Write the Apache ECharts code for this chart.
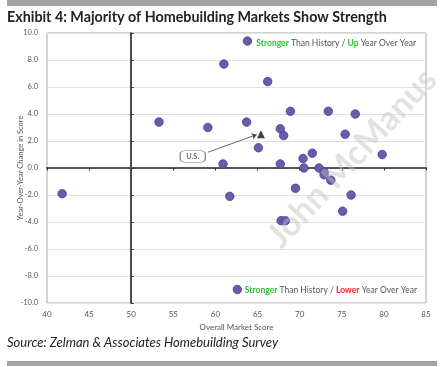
<!DOCTYPE html>
<html><head><meta charset="utf-8">
<script src="https://cdn.jsdelivr.net/npm/echarts@6/dist/echarts.min.js"></script>
<style>html,body{margin:0;padding:0;background:#fff}#c{width:442px;height:367px}</style>
</head><body><div id="c"></div>
<script>
// Overall Market Score (x) and Year-over-Year change (y)
const marketScore = [41.8, 53.3, 59.1, 60.9, 61.0, 61.7, 62.6, 63.7, 63.8, 65.1, 66.2, 67.7, 67.7, 67.8, 68.1, 68.3, 68.9, 69.5, 70.4, 70.5, 71.5, 72.3, 72.9, 72.9, 73.4, 73.7, 75.1, 75.4, 76.1, 76.6, 79.8];
const yoyChange   = [-1.9, 3.4, 3.0, 0.3, 7.7, -2.1, -9.0, 3.4, 9.4, 1.5, 6.4, 2.9, 0.3, -3.9, 2.4, -3.9, 4.2, -1.5, 0.7, 0.0, 1.1, 0.0, -0.3, -0.5, 4.2, -0.9, -3.2, 2.5, -2.0, 4.0, 1.0];
const usPoint = [65.4, 2.5];
const usLabel = 'U.S.';
const usLabelAt = [57.3, 0.85];
const usArrowFrom = [59.1, 1.17];
const usArrowTo = [64.9, 2.47];
const xTicks = [40, 45, 50, 55, 60, 65, 70, 75, 80, 85];
const yTicks = [-10, -8, -6, -4, -2, 0, 2, 4, 6, 8, 10];
const crossX = 50, crossY = 0;

const FONT = 'Lato, "Open Sans", sans-serif';
const chart = echarts.init(document.getElementById('c'), null, {renderer: 'canvas'});
const G = {left: 47, top: 33, right: 16, bottom: 64};
const gridW = 442 - G.left - G.right, gridH = 367 - G.top - G.bottom;
const xMin = xTicks[0], xMax = xTicks[xTicks.length - 1];
const yMin = yTicks[0], yMax = yTicks[yTicks.length - 1];
const offY = -gridH * (crossY - yMin) / (yMax - yMin);
const offX = -gridW * (crossX - xMin) / (xMax - xMin);
const T = 8.5;

chart.setOption({
  animation: false,
  textStyle: {fontFamily: FONT},
  grid: {left: G.left, top: G.top, right: G.right, bottom: G.bottom, show: true, borderColor: '#a8a8a8', borderWidth: 1},
  xAxis: [{
    type: 'value', min: xMin, max: xMax, interval: 5,
    name: 'Overall Market Score', nameLocation: 'middle', nameGap: 20,
    nameTextStyle: {fontSize: 8, color: '#555', fontFamily: FONT},
    axisLine: {show: false}, axisTick: {show: false}, splitLine: {show: false},
    axisLabel: {fontSize: 8, color: '#555', margin: 7, fontFamily: FONT}
  }, {
    type: 'value', min: xMin, max: xMax, interval: 5, position: 'bottom', offset: offY,
    axisLine: {show: true, onZero: false, lineStyle: {color: '#555', width: 2}},
    axisTick: {show: true, length: 2.5, lineStyle: {color: '#333'}},
    axisLabel: {show: false}, splitLine: {show: false}
  }],
  yAxis: [{
    type: 'value', min: yMin, max: yMax, interval: 2,
    name: 'Year-Over-Year Change in Score', nameLocation: 'middle', nameGap: 22, nameRotate: 90,
    nameMoveOverlap: false,
    nameTextStyle: {fontSize: 7.5, color: '#555', fontFamily: FONT},
    axisLine: {show: false}, axisTick: {show: false},
    splitLine: {show: true, lineStyle: {color: '#e2e2e2', width: 1}},
    axisLabel: {fontSize: 7.5, color: '#555', margin: 9, fontFamily: FONT, formatter: v => v.toFixed(1)}
  }, {
    type: 'value', min: yMin, max: yMax, interval: 2, position: 'left', offset: offX,
    axisLine: {show: true, onZero: false, lineStyle: {color: '#111', width: 1.5}},
    axisTick: {show: true, inside: true, length: 2.5, lineStyle: {color: '#333'}},
    axisLabel: {show: false}, splitLine: {show: false}
  }],
  series: [{
    type: 'scatter', xAxisIndex: 0, yAxisIndex: 0,
    data: marketScore.map((x, i) => [x, yoyChange[i]]),
    symbolSize: 8.5,
    itemStyle: {color: '#6c5aad', borderColor: '#4b3b8c', borderWidth: 0.8, opacity: 1},
    z: 5
  }, {
    type: 'scatter', xAxisIndex: 0, yAxisIndex: 0,
    data: [usPoint], symbol: 'triangle', symbolSize: 8,
    itemStyle: {color: '#111'}, z: 6,
    markLine: {
      silent: true, symbol: ['none', 'arrow'], symbolSize: 5,
      lineStyle: {color: '#444', width: 0.8, type: 'solid'}, label: {show: false},
      data: [[{coord: usArrowFrom}, {coord: usArrowTo}]]
    },
    markPoint: {
      silent: true,
      data: [{coord: usLabelAt, value: usLabel}],
      symbol: 'roundRect', symbolSize: [25, 12],
      itemStyle: {color: '#fff', borderColor: '#777', borderWidth: 0.8},
      label: {show: true, formatter: usLabel, fontSize: 7.5, color: '#444', fontFamily: FONT}
    }
  }],
  graphic: [
    {type: 'rect', left: 7, top: 0, shape: {width: 430, height: 6}, style: {fill: '#a3a3a3'}},
    {type: 'rect', left: 7, top: 361, shape: {width: 430, height: 5}, style: {fill: '#a3a3a3'}},
    {type: 'text', left: 7, top: 10, style: {text: 'Exhibit 4: Majority of Homebuilding Markets Show Strength', font: 'bold 14.3px ' + FONT, fill: '#222'}},
    {type: 'text', left: 7, top: 336, style: {text: 'Source: Zelman & Associates Homebuilding Survey', font: 'italic 13px ' + FONT, fill: '#222'}},
    {type: 'text', x: 352, y: 158, rotation: 0.82, z: 10, silent: true,
     style: {text: 'John McManus', font: 'bold 34px ' + FONT, fill: 'rgba(190,190,190,0.45)', align: 'center', verticalAlign: 'middle'}},
    {type: 'text', right: 26, top: 39, z: 11, style: {
      text: '{g|Stronger}{n| Than History / }{g|Up}{n| Year Over Year}',
      fontSize: T, fontFamily: FONT, fill: '#555',
      rich: {
        g: {fill: '#2fbf3a', fontWeight: 'bold', fontSize: T, fontFamily: FONT},
        n: {fill: '#555', fontSize: T, fontFamily: FONT}
      }
    }},
    {type: 'text', right: 25, top: 286, z: 11, style: {
      text: '{g|Stronger}{n| Than History / }{r|Lower}{n| Year Over Year}',
      fontSize: T, fontFamily: FONT, fill: '#555',
      rich: {
        g: {fill: '#2fbf3a', fontWeight: 'bold', fontSize: T, fontFamily: FONT},
        r: {fill: '#f0242c', fontWeight: 'bold', fontSize: T, fontFamily: FONT},
        n: {fill: '#555', fontSize: T, fontFamily: FONT}
      }
    }}
  ]
});
</script></body></html>
